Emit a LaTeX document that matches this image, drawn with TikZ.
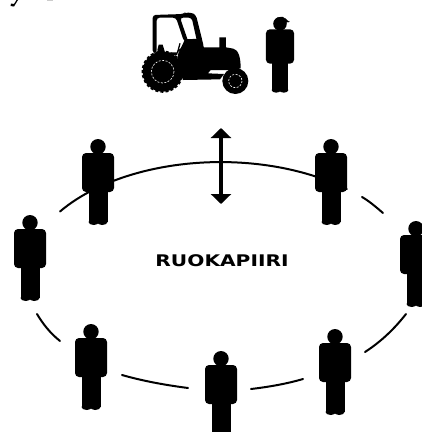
\documentclass[tikz,border=0pt]{standalone}
\usepackage{fontspec}
\setmainfont{DejaVu Sans}
\usetikzlibrary{arrows.meta}
\tikzset{
	person/.pic={
		\fill (0,7.7) circle (7.7);
		\fill[rounded corners=4pt] (-16,14) rectangle (16,53);
		\fill (-9.5,45) rectangle (9.5,83);
		\fill (-4.3,83) ellipse (5.2 and 3);
		\fill (4.3,83) ellipse (5.2 and 3);
	},
	ring/.style={line width=2pt,line cap=round},
	tread/.style={line width=1.6pt,dash pattern=on 3pt off 2.2pt},
	hub/.style={white,line width=0.6pt,dash pattern=on 2pt off 1.5pt}
}
\begin{document}
\begin{tikzpicture}[x=1pt,y=-1pt,>={Triangle[length=10pt,width=20pt]}]
		\clip (0,0) rectangle (422,432);
		% cut off text at the top
		\fill (16.5,0) -- (14,4) -- (11,3.5) -- (10.5,6) -- (14,6.5) -- (18,0) -- cycle;
		\fill[gray!40] (47,0) rectangle (53,1);
		% ring
		\draw[ring] (60,211.5) arc[start angle=214.5,end angle=310.3,x radius=195,y radius=114];
		\draw[ring] (362,197) .. controls (369,201) and (376,207) .. (383,213);
		\draw[ring] (406,314) .. controls (395,328) and (382,341) .. (365,352);
		\draw[ring] (303,379) .. controls (286,384) and (268,387) .. (251,389);
		\draw[ring] (188,388) .. controls (165,385) and (143,381) .. (122,375);
		\draw[ring] (60,341) .. controls (50,333) and (43,324) .. (37,314);
		% people
		\pic at (98,139) {person};
		\pic at (331,139) {person};
		\pic at (30,215) {person};
		\pic at (416,221) {person};
		\pic at (91,324) {person};
		\pic at (335,329) {person};
		\pic at (221,351) {person};
		% arrow
		\coordinate (up) at (221,128);
		\coordinate (down) at (221,204);
		\draw[<->,line width=3.5pt] (up) -- (down);
		\node (title) at (222,261) {\fontsize{16pt}{16pt}\selectfont\bfseries\scalebox{1.26}[1]{RUOKAPIIRI}};
		% farmer
		\pic[scale=0.88] at (280,17) {person};
		% tractor
		\begin{scope}[shift={(120,0)},scale=1/3]
			\fill[rounded corners=2pt] (462,68) -- (466,56) -- (478,50) -- (495,51) -- (497,60) -- (509,63) -- (506,68) -- cycle;
			\fill (195,118) -- (240,116) -- (252,142) -- (298,142) -- (298,112) -- (318,112) -- (318,142) -- (340,146) .. controls (355,150) and (362,170) .. (362,205) -- (340,210) -- (272,210) -- (264,220) -- (312,222) -- (300,238) -- (190,240) -- (170,190) -- (175,160) -- cycle;
			\fill[rounded corners=3pt] (98,160) -- (98,45) -- (190,42) -- (195,38) -- (215,38) -- (228,45) -- (252,142) -- (235,142) -- (215,53) -- (180,53) -- (205,125) -- (192,125) -- (168,53) -- (110,53) -- (110,160) -- cycle;
			\fill (112,150) -- (116,134) -- (128,134) -- (135,157) -- (172,157) -- (172,165) -- (120,168) -- cycle;
			\draw[line width=1.3pt] (172,160) -- (180,130) (172,155) -- (195,138);
			\fill (128,215) circle (60);
			\draw[tread] (128,215) circle (61);
			\draw[hub] (128,215) circle (34);
			\fill (346,243) circle (39);
			\draw[hub] (346,243) circle (20);
		\end{scope}
\end{tikzpicture}
\end{document}
